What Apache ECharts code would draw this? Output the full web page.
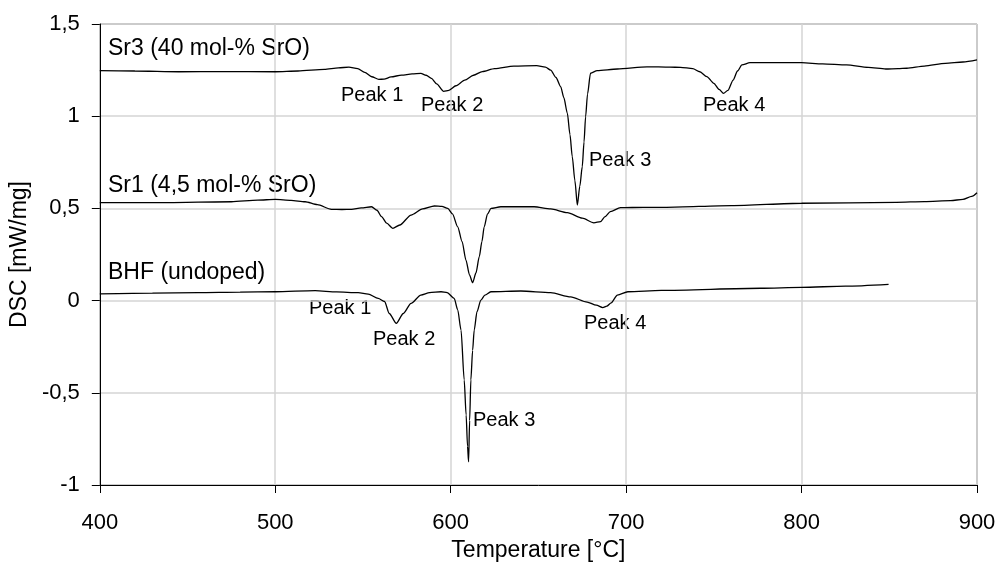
<!DOCTYPE html>
<html>
<head>
<meta charset="utf-8">
<script src="https://cdn.jsdelivr.net/npm/echarts@6/dist/echarts.min.js"></script>
<style>
html,body{margin:0;padding:0;background:#fff;}
#chart{width:1000px;height:570px;}
</style>
</head>
<body>
<div id="chart"></div>
<script>
// ---- Data ----
const xTicks = [400, 500, 600, 700, 800, 900];
const yTicks = [-1, -0.5, 0, 0.5, 1, 1.5];

const sr3Temp = [400,420,445,470,500,513,528,536,542,547,551,555,559,562,566,572,578,583,586,589,592,596,599,603,608,613,618,625,636,649,654,657,660,662.7,664.5,666.5,668,669.3,670.8,672.2,673.6,675,676,676.9,678,679.7,683.5,695,711.9,725,731,738,742,746,750,753,755.5,758,761,763.5,766,770.6,785,800,812,825.6,838,848,855,860,870,882,892,900];
const sr3Dsc  = [1.247,1.245,1.241,1.242,1.241,1.245,1.254,1.262,1.266,1.258,1.238,1.214,1.200,1.201,1.213,1.223,1.229,1.232,1.222,1.205,1.175,1.135,1.140,1.165,1.196,1.222,1.242,1.258,1.272,1.274,1.266,1.250,1.210,1.160,1.100,1.016,0.900,0.780,0.650,0.518,0.620,0.726,0.860,0.997,1.120,1.233,1.247,1.256,1.268,1.266,1.265,1.258,1.241,1.215,1.178,1.145,1.124,1.140,1.196,1.245,1.278,1.290,1.290,1.290,1.284,1.278,1.265,1.256,1.258,1.260,1.272,1.287,1.294,1.305];

const sr1Temp = [400,437,475,490,500,509,517,524,532,538,543.5,549,554.9,558,560.6,563.5,567,571,577.4,584,590.7,595,598.3,601,604,606.5,608.7,610.7,612.5,614.4,616.3,617.8,619.1,621,623,628.6,640,647.5,657,666.5,675,681.6,685.4,688,691,696.8,710,723,760,800,854,870,885,892,897,900];
const sr1Dsc  = [0.531,0.531,0.536,0.545,0.549,0.544,0.536,0.520,0.495,0.494,0.495,0.503,0.509,0.490,0.455,0.420,0.392,0.410,0.464,0.497,0.513,0.511,0.500,0.470,0.400,0.320,0.220,0.140,0.097,0.150,0.238,0.320,0.400,0.470,0.500,0.509,0.509,0.509,0.497,0.477,0.447,0.422,0.428,0.455,0.482,0.504,0.506,0.506,0.515,0.528,0.533,0.537,0.542,0.549,0.565,0.585];

const bhfTemp = [400,430,456,480,500,522.7,535,547.3,553,558.7,562.3,565,569,573,577.4,583,588,594.5,598,602,604,605.9,607.7,608.8,609.6,610.2,610.8,611.5,612.5,613.4,615,617.2,619.5,622.9,640,657,668.4,677.8,683,686.7,689,691.5,695,701,720,776.7,800,825,849.6];
const bhfDsc  = [0.036,0.040,0.043,0.046,0.048,0.054,0.047,0.043,0.035,0.012,-0.005,-0.070,-0.123,-0.070,-0.015,0.030,0.043,0.048,0.043,0.012,-0.050,-0.160,-0.430,-0.620,-0.790,-0.874,-0.650,-0.430,-0.270,-0.160,-0.060,0.003,0.030,0.048,0.052,0.043,0.020,-0.008,-0.025,-0.038,-0.030,-0.012,0.030,0.048,0.055,0.067,0.072,0.078,0.088];

const seriesNames = ['Sr3 (40 mol-% SrO)', 'Sr1 (4,5 mol-% SrO)', 'BHF (undoped)'];
const peakNames = ['Peak 1', 'Peak 2', 'Peak 3', 'Peak 4'];

// ---- Build ----
function pairs(xs, ys) { return xs.map((x, i) => [x, ys[i]]); }
const FONT = 'Liberation Sans, Arial, sans-serif';
const lineStyle = { color: '#000', width: 1.3 };

const chart = echarts.init(document.getElementById('chart'), null, { renderer: 'canvas' });

function txt(s, left, cy, size) {
  return { type: 'text', left: left, top: cy - size * 0.6, style: { text: s, fill: '#000', font: size + 'px ' + FONT } };
}

const option = {
  animation: false,
  backgroundColor: '#fff',
  grid: { left: 98, right: 23, top: 24, bottom: 85, show: true, borderColor: '#606060', borderWidth: 1, backgroundColor: 'transparent' },
  xAxis: {
    type: 'value', min: xTicks[0], max: xTicks[xTicks.length - 1], interval: 100,
    name: 'Temperature [°C]', nameLocation: 'middle', nameGap: 51,
    nameTextStyle: { fontFamily: FONT, fontSize: 23, color: '#000' },
    axisLine: { onZero: false, lineStyle: { color: '#000', width: 1 } },
    axisTick: { show: true, inside: false, length: 8, lineStyle: { color: '#000' } },
    axisLabel: { fontFamily: FONT, fontSize: 22, color: '#000', margin: 27 },
    splitLine: { show: true, lineStyle: { color: '#d4d4d4', width: 1.5 } }
  },
  yAxis: {
    type: 'value', min: yTicks[0], max: yTicks[yTicks.length - 1], interval: 0.5,
    name: 'DSC [mW/mg]', nameLocation: 'middle', nameGap: 65,
    nameTextStyle: { fontFamily: FONT, fontSize: 23, color: '#000' },
    axisLine: { show: true, onZero: false, lineStyle: { color: '#000', width: 1 } },
    axisTick: { show: true, inside: false, length: 8, lineStyle: { color: '#000' } },
    axisLabel: { fontFamily: FONT, fontSize: 22, color: '#000', margin: 20,
      formatter: v => String(v).replace('.', ',') },
    splitLine: { show: true, lineStyle: { color: '#d4d4d4', width: 1.5 } }
  },
  series: [
    { name: seriesNames[0], type: 'line', data: pairs(sr3Temp, sr3Dsc), showSymbol: false, smooth: 0.25, smoothMonotone: 'x', lineStyle: lineStyle },
    { name: seriesNames[1], type: 'line', data: pairs(sr1Temp, sr1Dsc), showSymbol: false, smooth: 0.25, smoothMonotone: 'x', lineStyle: lineStyle },
    { name: seriesNames[2], type: 'line', data: pairs(bhfTemp, bhfDsc), showSymbol: false, smooth: 0.25, smoothMonotone: 'x', lineStyle: lineStyle }
  ],
  graphic: [
    txt(seriesNames[0], 108, 51, 23),
    txt(seriesNames[1], 108, 188, 23),
    txt(seriesNames[2], 108, 275, 23),
    txt(peakNames[0], 341, 97, 20),
    txt(peakNames[1], 421, 107, 20),
    txt(peakNames[2], 589, 162, 20),
    txt(peakNames[3], 703, 107, 20),
    txt(peakNames[0], 309, 310, 20),
    txt(peakNames[1], 373, 341, 20),
    txt(peakNames[2], 473, 422, 20),
    txt(peakNames[3], 584, 325, 20)
  ]
};
chart.setOption(option);
</script>
</body>
</html>
